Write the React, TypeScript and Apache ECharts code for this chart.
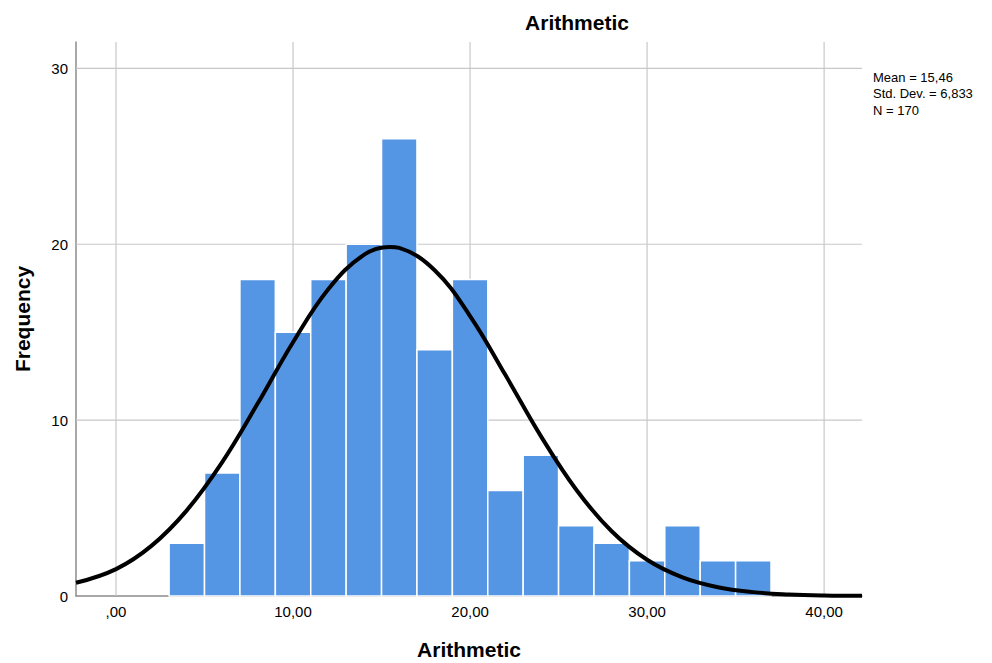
import React, { useEffect, useRef } from "react";
import * as echarts from "echarts";

const binStarts = [3, 5, 7, 9, 11, 13, 15, 17, 19, 21, 23, 25, 27, 29, 31, 33, 35];
const binWidth = 2;
const counts = [3, 7, 18, 15, 18, 20, 26, 14, 18, 6, 8, 4, 3, 2, 4, 2, 2];
const curveX = [-2.26, 0, 2, 4, 6, 8, 10, 12, 14, 15.46, 16, 18, 20, 22, 24, 26, 28, 30, 32, 34, 36, 38, 40, 42.14];
const curveY = [0.75, 1.53, 2.85, 4.87, 7.61, 10.94, 14.43, 17.46, 19.4, 19.85, 19.79, 18.52, 15.92, 12.56, 9.09, 6.04, 3.68, 2.06, 1.06, 0.5, 0.22, 0.09, 0.03, 0.01];
const xTicks = [0, 10, 20, 30, 40];
const yTicks = [0, 10, 20, 30];
const statsLines = ["Mean = 15,46", "Std. Dev. = 6,833", "N = 170"];

const FONT = "'Liberation Sans', Arial, sans-serif";
const X_MIN = -2.26;
const X_MAX = 42.14;
const Y_MAX = 31.5;

export default function App() {
  const ref = useRef<HTMLDivElement>(null);
  useEffect(() => {
    if (!ref.current) return;
    const chart = echarts.init(ref.current, undefined, { renderer: "svg" });
    const fmtX = (v: number) => {
      const s = v.toFixed(2).replace(".", ",");
      return s.startsWith("0,") ? s.slice(1) : s;
    };
    chart.setOption({
      animation: false,
      backgroundColor: "#ffffff",
      title: {
        text: "Arithmetic",
        left: 572,
        top: 7,
        textAlign: "center",
        textStyle: { fontFamily: FONT, fontSize: 21, fontWeight: "bold", color: "#000" },
      },
      graphic: [
        {
          type: "text",
          left: 873,
          top: 69,
          style: {
            text: statsLines.join("\n"),
            font: `13px ${FONT}`,
            fill: "#000",
            lineHeight: 16.5,
          },
        },
      ],
      grid: { left: 76, right: 130, top: 42, bottom: 67, outerBoundsMode: "none", containLabel: false },
      xAxis: {
        type: "value",
        min: X_MIN,
        max: X_MAX,
        name: "Arithmetic",
        nameLocation: "middle",
        nameGap: 43,
        nameTextStyle: { fontFamily: FONT, fontSize: 21, fontWeight: "bold", color: "#000" },
        axisLine: { show: true, onZero: false, lineStyle: { color: "#8c8c8c", width: 1.5 } },
        axisTick: { show: false },
        axisLabel: {
          fontFamily: FONT,
          fontSize: 15,
          color: "#000",
          margin: 8,
          customValues: xTicks,
          formatter: (v: number) => fmtX(v),
        },
        splitLine: { show: false },
      },
      yAxis: {
        type: "value",
        min: 0,
        max: Y_MAX,
        name: "Frequency",
        nameLocation: "middle",
        nameGap: 43,
        nameTextStyle: { fontFamily: FONT, fontSize: 21, fontWeight: "bold", color: "#000" },
        axisLine: { show: true, onZero: false, lineStyle: { color: "#8c8c8c", width: 1.5 } },
        axisTick: { show: false },
        axisLabel: {
          fontFamily: FONT,
          fontSize: 15,
          color: "#000",
          margin: 8,
          customValues: yTicks,
        },
        splitLine: { show: false },
      },
      series: [
        {
          type: "custom",
          silent: true,
          z: 1,
          data: xTicks.map((v) => [v]),
          renderItem: (params: any, api: any) => {
            const x = api.value(0);
            const top = api.coord([x, Y_MAX]);
            const bot = api.coord([x, 0]);
            return {
              type: "line",
              shape: { x1: top[0], y1: top[1], x2: bot[0], y2: bot[1] },
              style: { stroke: "#c8c8c8", lineWidth: 1.2 },
            };
          },
        },
        {
          type: "custom",
          silent: true,
          z: 1,
          data: yTicks.filter((v) => v > 0).map((v) => [v]),
          renderItem: (params: any, api: any) => {
            const y = api.value(0);
            const l = api.coord([X_MIN, y]);
            const r = api.coord([X_MAX, y]);
            return {
              type: "line",
              shape: { x1: l[0], y1: l[1], x2: r[0], y2: r[1] },
              style: { stroke: "#c8c8c8", lineWidth: 1.2 },
            };
          },
        },
        {
          type: "custom",
          z: 2,
          data: binStarts.map((s, i) => [s, counts[i]]),
          renderItem: (params: any, api: any) => {
            const s = api.value(0);
            const c = api.value(1);
            const p0 = api.coord([s, c]);
            const p1 = api.coord([s + binWidth, 0]);
            return {
              type: "rect",
              shape: { x: p0[0], y: p0[1], width: p1[0] - p0[0], height: p1[1] - p0[1] },
              style: { fill: "#5596e4", stroke: "#ffffff", lineWidth: 1.5 },
            };
          },
        },
        {
          type: "line",
          z: 3,
          smooth: 0.4,
          showSymbol: false,
          data: curveX.map((x, i) => [x, curveY[i]]),
          lineStyle: { color: "#000000", width: 4 },
        },
      ],
    });
    return () => chart.dispose();
  }, []);
  return (
    <div
      ref={ref}
      style={{ position: "absolute", left: 0, top: 0, width: 992, height: 663, overflow: "hidden" }}
    />
  );
}
